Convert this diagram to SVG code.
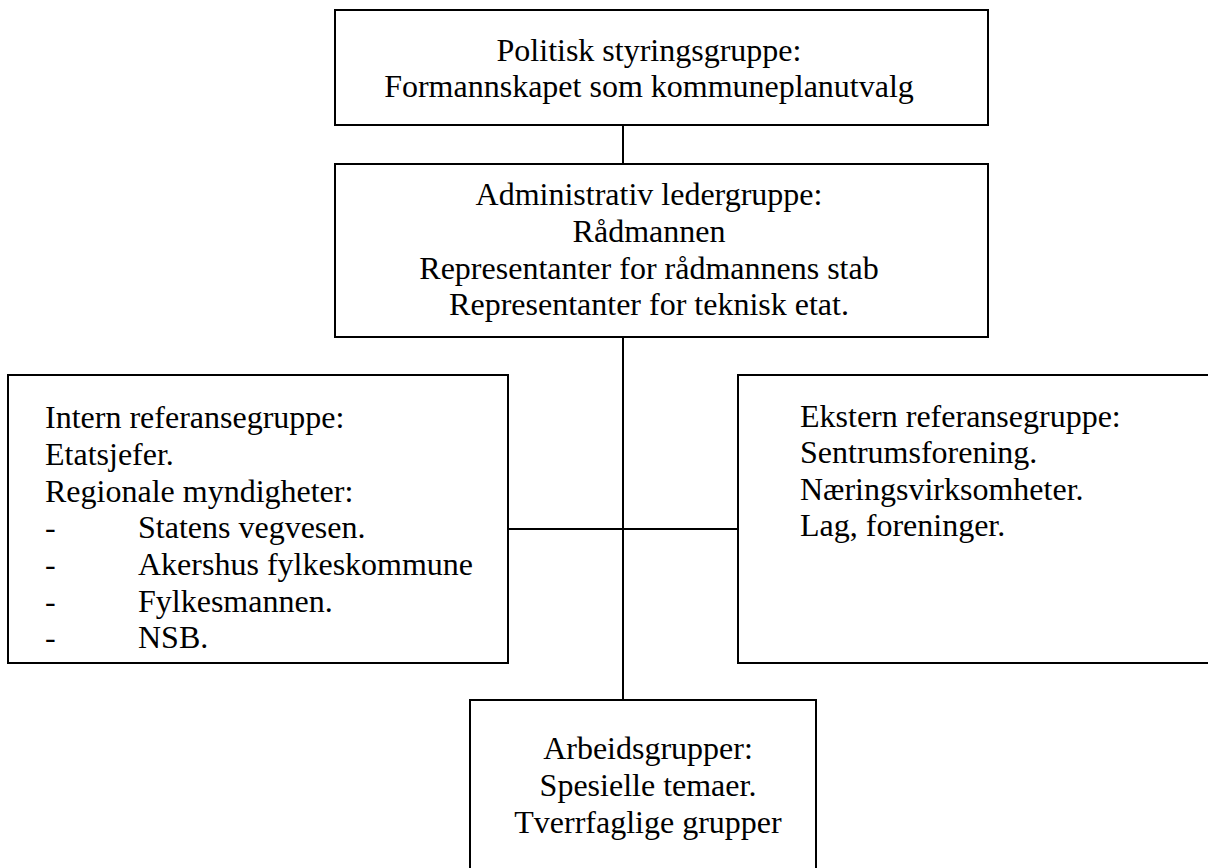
<svg xmlns="http://www.w3.org/2000/svg" width="1208" height="868" viewBox="0 0 1208 868">
<style>
.box{fill:#fff;stroke:#000;stroke-width:2}
.ln{stroke:#000;stroke-width:2;fill:none}
.t{font-family:'Liberation Serif','Times New Roman','DejaVu Serif',serif;font-size:32px;fill:#000}
.c{text-anchor:middle}
</style>
<rect width="1208" height="868" fill="#fff"/>
<g id="connectors">
<line class="ln" x1="623" y1="125" x2="623" y2="164"/>
<line class="ln" x1="623" y1="337" x2="623" y2="700"/>
<line class="ln" x1="508" y1="529" x2="738" y2="529"/>
</g>
<g id="politisk" class="t">
<rect class="box" x="335" y="10" width="653" height="115"/>
<text class="c" x="649" y="61">Politisk styringsgruppe:</text>
<text class="c" x="649" y="97">Formannskapet som kommuneplanutvalg</text>
</g>
<g id="administrativ" class="t">
<rect class="box" x="335" y="164" width="653" height="173"/>
<text class="c" x="649" y="205">Administrativ ledergruppe:</text>
<text class="c" x="649" y="242">Rådmannen</text>
<text class="c" x="649" y="279">Representanter for rådmannens stab</text>
<text class="c" x="649" y="315">Representanter for teknisk etat.</text>
</g>
<g id="intern" class="t">
<rect class="box" x="8" y="375" width="500" height="288"/>
<text x="45" y="428">Intern referansegruppe:</text>
<text x="45" y="465">Etatsjefer.</text>
<text x="45" y="502">Regionale myndigheter:</text>
<text x="45" y="538">-</text><text x="138" y="538">Statens vegvesen.</text>
<text x="45" y="575">-</text><text x="138" y="575">Akershus fylkeskommune</text>
<text x="45" y="612">-</text><text x="138" y="612">Fylkesmannen.</text>
<text x="45" y="648">-</text><text x="138" y="648">NSB.</text>
</g>
<g id="ekstern" class="t">
<rect class="box" x="738" y="375" width="480" height="288"/>
<text x="800" y="427">Ekstern referansegruppe:</text>
<text x="800" y="463">Sentrumsforening.</text>
<text x="800" y="500">Næringsvirksomheter.</text>
<text x="800" y="536">Lag, foreninger.</text>
</g>
<g id="arbeidsgrupper" class="t">
<rect class="box" x="470" y="700" width="346" height="190"/>
<text class="c" x="648" y="759">Arbeidsgrupper:</text>
<text class="c" x="648" y="796">Spesielle temaer.</text>
<text class="c" x="648" y="833">Tverrfaglige grupper</text>
</g>
</svg>
